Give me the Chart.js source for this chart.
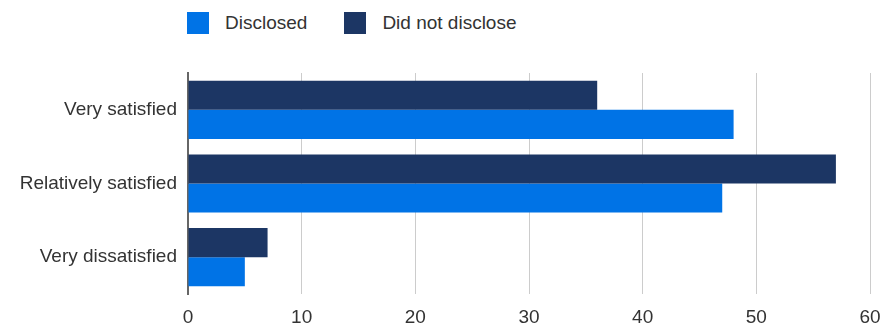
<!DOCTYPE html>
<html>
<head>
<meta charset="utf-8">
<script src="https://cdn.jsdelivr.net/npm/chart.js@4"></script>
<style>
  html, body { margin: 0; padding: 0; background: #fff; }
  #wrap { position: relative; width: 884px; height: 326px; }
  #legend { position: absolute; left: 187px; top: 12px; display: flex; font-family: "Liberation Sans", Arial, sans-serif; font-size: 19px; color: #333; }
  .item { display: flex; align-items: center; margin-right: 37px; }
  .box { width: 22px; height: 22px; margin-right: 16px; }
  canvas { position: absolute; left: 0; top: 0; }
</style>
</head>
<body>
<div id="wrap">
  <div id="legend"></div>
  <canvas id="chart" width="884" height="326"></canvas>
</div>
<script>
const categories = ['Very satisfied', 'Relatively satisfied', 'Very dissatisfied'];
const didNotDisclose = [36, 57, 7];
const disclosed = [48, 47, 5];
const xTicks = [0, 10, 20, 30, 40, 50, 60];

const colors = { disclosed: '#0073e6', notDisclosed: '#1c3664' };
const font = { family: '"Liberation Sans", Arial, sans-serif', size: 19 };

// legend order: Disclosed first, then Did not disclose
const legendItems = [
    { label: 'Disclosed', color: colors.disclosed },
    { label: 'Did not disclose', color: colors.notDisclosed }
];
const legendEl = document.getElementById('legend');
legendItems.forEach(item => {
    const el = document.createElement('div');
    el.className = 'item';
    el.innerHTML = `<span class="box" style="background:${item.color}"></span><span>${item.label}</span>`;
    legendEl.appendChild(el);
});

new Chart(document.getElementById('chart').getContext('2d'), {
    type: 'bar',
    data: {
        labels: categories,
        datasets: [
            { label: 'Did not disclose', data: didNotDisclose, backgroundColor: colors.notDisclosed },
            { label: 'Disclosed', data: disclosed, backgroundColor: colors.disclosed }
        ]
    },
    options: {
        indexAxis: 'y',
        responsive: false,
        animation: false,
        categoryPercentage: 0.79,
        barPercentage: 1,
        layout: { padding: { top: 73, right: 14, left: 0, bottom: 0 } },
        plugins: { legend: { display: false }, tooltip: { enabled: false } },
        scales: {
            x: {
                min: 0,
                max: 60,
                afterBuildTicks: axis => { axis.ticks = xTicks.map(v => ({ value: v })); },
                afterFit: axis => {
                    axis.height = 32;
                    axis.paddingLeft = 0;
                    axis.paddingRight = 0;
                },
                grid: { color: '#cccccc', lineWidth: 1, drawTicks: false },
                border: { display: false },
                ticks: { color: '#333', font: font, padding: 12 }
            },
            y: {
                afterFit: axis => { axis.width = 188; },
                grid: { display: false, drawTicks: false },
                border: { display: true, color: '#666', width: 2 },
                ticks: { color: '#333', font: font, padding: 11 }
            }
        }
    }
});
</script>
</body>
</html>
